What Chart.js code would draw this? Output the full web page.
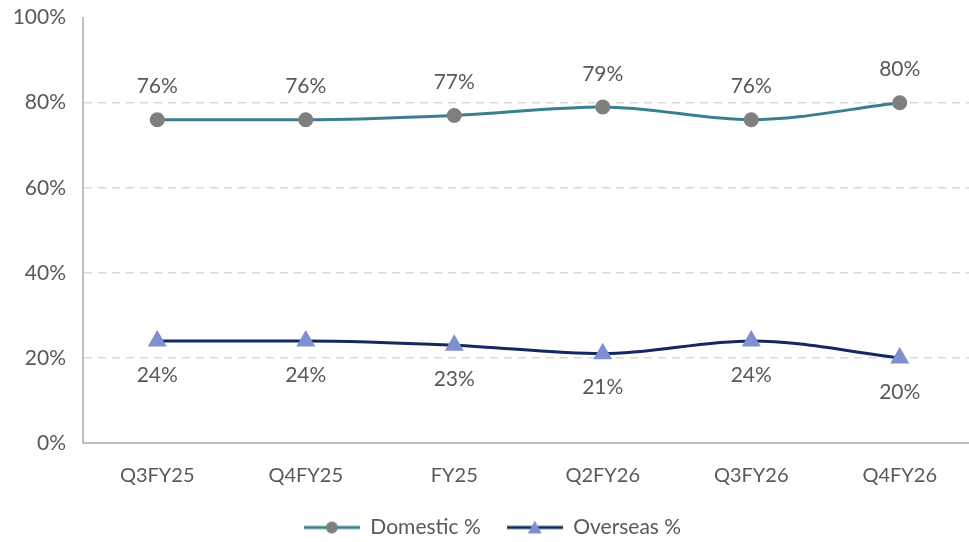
<!DOCTYPE html>
<html>
<head>
<meta charset="utf-8">
<script src="https://cdn.jsdelivr.net/npm/chart.js@4.4.1/dist/chart.umd.min.js"></script>
<style>
  html, body { margin: 0; padding: 0; background: #fff; overflow: hidden; }
  #wrap { width: 985px; height: 566px; margin-top: -12px; }
</style>
</head>
<body>
<div id="wrap"><canvas id="mixChart"></canvas></div>
<script>
// 분기별 국내/해외 비중
var periods = ['Q3FY25', 'Q4FY25', 'FY25', 'Q2FY26', 'Q3FY26', 'Q4FY26'];
var domestic = [76, 76, 77, 79, 76, 80];
var overseas = [24, 24, 23, 21, 24, 20];
var yTicks = [0, 20, 40, 60, 80, 100];

var textGray = '#595959';
var fontFamily = 'Lato, "Open Sans", sans-serif';

// 범례용 선+마커 아이콘
function legendIcon(lineColor, markerColor, shape) {
    var c = document.createElement('canvas');
    c.width = 56; c.height = 16;
    var g = c.getContext('2d');
    g.strokeStyle = lineColor;
    g.lineWidth = 3;
    g.beginPath(); g.moveTo(0, 8); g.lineTo(56, 8); g.stroke();
    g.fillStyle = markerColor;
    g.beginPath();
    if (shape === 'circle') {
        g.arc(28, 8, 6, 0, Math.PI * 2);
    } else {
        g.moveTo(28, 1); g.lineTo(35, 14); g.lineTo(21, 14); g.closePath();
    }
    g.fill();
    return c;
}

// 값 라벨 그리기
var valueLabels = {
    id: 'valueLabels',
    afterDatasetsDraw: function(chart) {
        var ctx = chart.ctx;
        ctx.save();
        ctx.font = '21px ' + fontFamily;
        ctx.fillStyle = textGray;
        ctx.textAlign = 'center';
        ctx.textBaseline = 'middle';
        chart.data.datasets.forEach(function(ds, i) {
            var meta = chart.getDatasetMeta(i);
            meta.data.forEach(function(pt, j) {
                var dy = i === 0 ? -33 : 34;
                ctx.fillText(ds.data[j] + '%', pt.x, pt.y + dy);
            });
        });
        ctx.restore();
    }
};

var ctx = document.getElementById('mixChart').getContext('2d');
var mixChart = new Chart(ctx, {
    type: 'line',
    data: {
        labels: periods,
        datasets: [{
            label: 'Domestic %',
            data: domestic,
            borderColor: '#3b7f8f',
            borderWidth: 3,
            pointStyle: 'circle',
            pointRadius: 6,
            pointBackgroundColor: '#7f7f7f',
            pointBorderColor: '#7f7f7f',
            cubicInterpolationMode: 'monotone',
            fill: false
        }, {
            label: 'Overseas %',
            data: overseas,
            borderColor: '#14275e',
            borderWidth: 3,
            pointStyle: 'triangle',
            pointRadius: 8,
            pointBackgroundColor: '#7f8fd0',
            pointBorderColor: '#7f8fd0',
            cubicInterpolationMode: 'monotone',
            fill: false
        }]
    },
    options: {
        responsive: true,
        maintainAspectRatio: false,
        animation: false,
        layout: { padding: { top: 7, right: 0, bottom: 6, left: 0 } },
        plugins: {
            tooltip: { enabled: false },
            legend: {
                position: 'bottom',
                labels: {
                    usePointStyle: true,
                    pointStyleWidth: 56,
                    color: textGray,
                    font: { family: fontFamily, size: 21 },
                    padding: 26,
                    generateLabels: function(chart) {
                        return [
                            { text: 'Domestic %', pointStyle: legendIcon('#3b7f8f', '#7f7f7f', 'circle'), fontColor: textGray, lineWidth: 0, strokeStyle: 'rgba(0,0,0,0)', fillStyle: 'rgba(0,0,0,0)', datasetIndex: 0 },
                            { text: 'Overseas %', pointStyle: legendIcon('#14275e', '#7f8fd0', 'triangle'), fontColor: textGray, lineWidth: 0, strokeStyle: 'rgba(0,0,0,0)', fillStyle: 'rgba(0,0,0,0)', datasetIndex: 1 }
                        ];
                    }
                }
            }
        },
        scales: {
            x: {
                offset: true,
                afterFit: function(scale) { scale.height = 48; },
                grid: { display: false, drawTicks: false },
                border: { display: true, color: '#bfbfbf', width: 2 },
                ticks: { color: textGray, font: { family: fontFamily, size: 20 }, padding: 21 }
            },
            y: {
                min: 0,
                max: 100,
                afterBuildTicks: function(scale) {
                    scale.ticks = yTicks.map(function(v) { return { value: v }; });
                },
                afterFit: function(scale) { scale.width = 83; },
                grid: {
                    drawTicks: false,
                    color: function(c) { return (c.tick && (c.tick.value === 0 || c.tick.value === 100)) ? 'rgba(0,0,0,0)' : '#d9d9d9'; },
                    lineWidth: 1.5
                },
                border: { display: true, color: '#bfbfbf', width: 2, dash: [8, 6] },
                ticks: {
                    color: textGray,
                    font: { family: fontFamily, size: 21 },
                    padding: 17,
                    callback: function(v) { return v + '%'; }
                }
            }
        }
    },
    plugins: [valueLabels]
});
</script>
</body>
</html>
